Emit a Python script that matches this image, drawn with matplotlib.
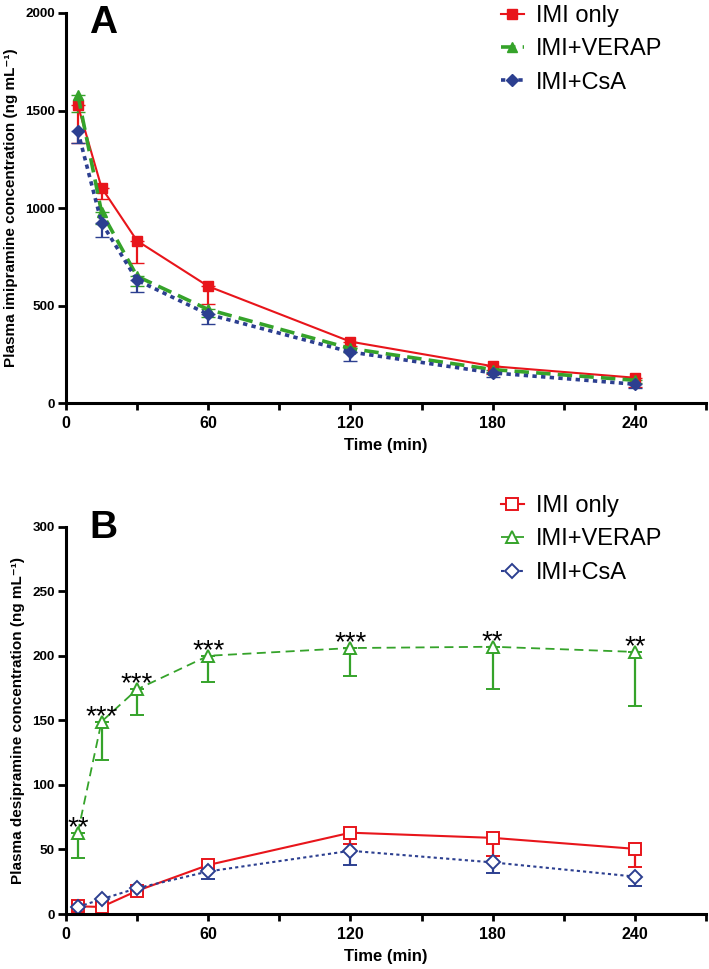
import numpy as np
import matplotlib
matplotlib.use("Agg")
import matplotlib.pyplot as plt
from matplotlib.ticker import MultipleLocator

# time points (min)
t = [5, 15, 30, 60, 120, 180, 240]

# panel A: plasma imipramine (ng/mL), mean and lower error
imi_A = [1527, 1105, 832, 599, 315, 189, 130]
imi_A_err = [195, 60, 112, 89, 20, 40, 50]
verap_A = [1582, 980, 650, 480, 280, 172, 117]
verap_A_err = [90, 60, 50, 40, 20, 15, 12]
csa_A = [1395, 925, 630, 455, 262, 155, 97]
csa_A_err = [63, 73, 60, 47, 47, 22, 18]

# panel B: plasma desipramine (ng/mL)
imi_B = [6, 5.5, 18, 38, 63, 59, 50.5]
imi_B_err = [1, 1, 1, 3, 9, 14, 14]
verap_B = [63, 149, 174, 200, 206, 207, 203]
verap_B_err = [19.5, 30, 19.5, 20, 22, 33, 42]
csa_B = [5.5, 11.5, 20, 33, 49, 40, 29]
csa_B_err = [1, 1, 2, 6, 11, 8, 7.5]
stars_B = ['**', '***', '***', '***', '***', '**', '**']

labels = ['IMI only', 'IMI+VERAP', 'IMI+CsA']
RED = '#e8151b'
GREEN = '#35a32a'
BLUE = '#2c3f90'

FONT = ['Liberation Sans', 'DejaVu Sans']
NARROW = ['Liberation Sans Narrow', 'Liberation Sans', 'DejaVu Sans']

fig = plt.figure(figsize=(7.09, 9.69), dpi=100)
axA = fig.add_axes([0.093, 0.584, 0.903, 0.4026])
axB = fig.add_axes([0.093, 0.0567, 0.903, 0.3998])


def style_axis(ax, ymax, ystep, ylabel):
    for s in ['top', 'right']:
        ax.spines[s].set_visible(False)
    for s in ['left', 'bottom']:
        ax.spines[s].set_linewidth(2.2)
    ax.set_xlim(0, 270)
    ax.set_ylim(0, ymax)
    ax.xaxis.set_minor_locator(MultipleLocator(30))
    ax.set_xticks([0, 60, 120, 180, 240])
    ax.yaxis.set_major_locator(MultipleLocator(ystep))
    ax.tick_params(which='both', direction='out', width=2, length=5)
    ax.tick_params(axis='x', pad=4)
    ax.tick_params(axis='y', length=6, pad=2)
    for lab in ax.get_xticklabels():
        lab.set_family(NARROW)
        lab.set_fontweight('bold')
        lab.set_fontsize(11.5)
    for lab in ax.get_yticklabels():
        lab.set_family(FONT)
        lab.set_fontweight('bold')
        lab.set_fontsize(9.7)
    ax.set_xlabel('Time (min)', family=NARROW, fontweight='bold', fontsize=12, labelpad=5)
    ax.set_ylabel(ylabel, family=FONT, fontweight='bold', fontsize=11, labelpad=5)


def series(ax, y, err, color, marker, ls, lw, ms, filled):
    zeros = np.zeros(len(err))
    h = ax.errorbar(t, y, yerr=[err, zeros], color=color, ecolor=color,
                    elinewidth=1.6, capsize=5, capthick=1.6,
                    marker=marker, markersize=ms, linestyle=ls, linewidth=lw,
                    markerfacecolor=color if filled else 'white',
                    markeredgecolor=color, markeredgewidth=1.4 if not filled else 1,
                    clip_on=False)
    return h[0]


def add_legend(ax, handles, top):
    ax.legend(handles, labels, loc='upper left', bbox_to_anchor=(0.706, top),
              bbox_transform=fig.transFigure, frameon=False, borderpad=0,
              borderaxespad=0,
              prop={'family': FONT, 'size': 17}, handlelength=1.0,
              handletextpad=0.5, labelspacing=0.48)


# Panel A
hA = [series(axA, imi_A, imi_A_err, RED, 's', '-', 1.5, 7, True),
      series(axA, verap_A, verap_A_err, GREEN, '^', (0, (4, 2)), 2.6, 7, True),
      series(axA, csa_A, csa_A_err, BLUE, 'D', (0, (1.2, 1.2)), 2.6, 6.5, True)]
style_axis(axA, 2000, 500, 'Plasma imipramine concentration (ng mL⁻¹)')
fig.text(0.146, 0.995, 'A', fontsize=28, fontweight='bold',
         family=FONT, ha='center', va='top')
add_legend(axA, hA, 0.995)

# Panel B
hB = [series(axB, imi_B, imi_B_err, RED, 's', '-', 1.5, 8, False),
      series(axB, verap_B, verap_B_err, GREEN, '^', (0, (5, 3)), 1.3, 8, False),
      series(axB, csa_B, csa_B_err, BLUE, 'D', (0, (1.5, 1.5)), 1.5, 7, False)]
style_axis(axB, 300, 50, 'Plasma desipramine concentration (ng mL⁻¹)')
for x, y, s in zip(t, verap_B, stars_B):
    axB.annotate(s, (x, y), xytext=(0, -1.5), textcoords='offset points',
                 ha='center', va='baseline', fontsize=20, family=FONT)
fig.text(0.146, 0.474, 'B', fontsize=28, fontweight='bold',
         family=FONT, ha='center', va='top')
add_legend(axB, hB, 0.489)

fig.savefig('out.png', dpi=100)
